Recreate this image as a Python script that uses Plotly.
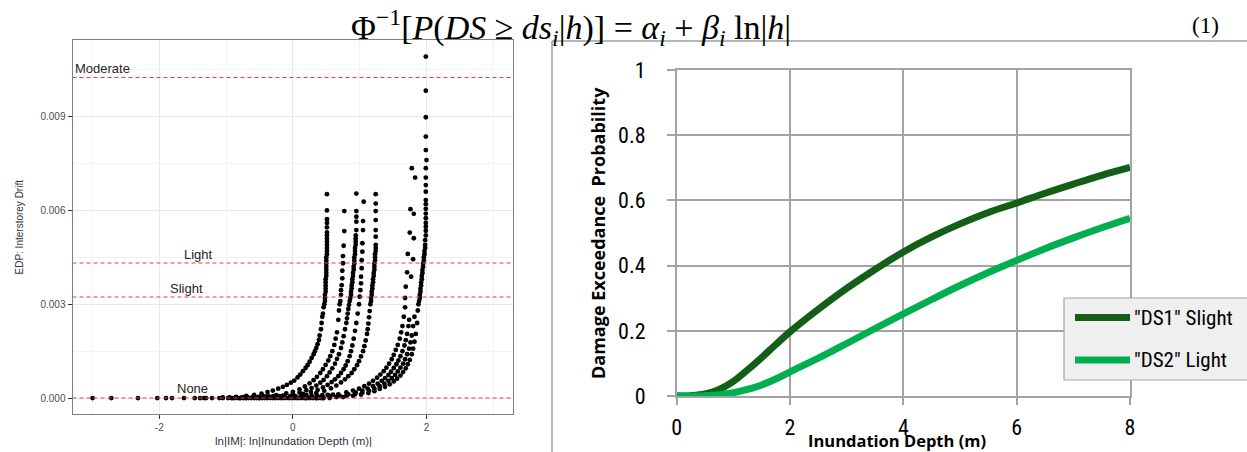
import plotly.graph_objects as go

W, H = 1247, 452


def px(xp):
    return xp / W


def py(yp):
    return 1 - yp / H


# ---------------- left panel: EDP (interstorey drift) vs ln(depth) ----------------
base_x = [-3.00, -2.72, -2.32, -2.03, -1.90, -1.81, -1.63, -1.47, -1.39, -1.33, -1.21, -1.10,
          -1.05, -0.97, -0.92, -0.87, -0.82, -0.78, -0.74, -0.70, -0.66, -0.62, -0.58, -0.54,
          -0.50, -0.46, -0.42, -0.38, -0.34, -0.30, -0.26, -0.22, -0.18, -0.14, -0.10, -0.06,
          -0.02, 0.02, 0.06, 0.10, 0.14, 0.18, 0.22, 0.26, 0.30, 0.34, 0.38, 0.42, 0.46]
base_y = [0, 0, 0, 0, 0, 0, 0, 0, 0, 0, 0, 0,
          0, 0, 0, 0, 0, 0, 0, 0, 0, 0, 0, 0,
          0, 0, 0, 0, 0, 0, 0, 0, 0, 0, 0, 0,
          0, 0, 0, 0, 0, 0, 0, 0, 0, 0, 0, 0, 0]

band_x = [-0.95, -0.85, -0.76, -0.68, -0.60, -0.52, -0.44, -0.36, -0.28, -0.20, -0.12, -0.04,
          0.04, 0.12, 0.20, 0.28, 0.36, 0.44, 0.52, 0.60]
band_y = [0.00002, 0.00002, 0.00003, 0.00003, 0.00004, 0.00004, 0.00005, 0.00005, 0.00005,
          0.00006, 0.00006, 0.00006, 0.00006, 0.00007, 0.00007, 0.00008, 0.00008, 0.00009,
          0.0001, 0.00011]

bldg_a_x = [-1.30, -1.05, -0.85, -0.70, -0.58, -0.47, -0.38, -0.30, -0.22, -0.15, -0.09, -0.03,
            0.02, 0.07, 0.11, 0.15, 0.19, 0.22, 0.25, 0.28, 0.31, 0.33, 0.35, 0.37, 0.39, 0.40,
            0.42, 0.43, 0.44, 0.45, 0.46, 0.47,
            0.48, 0.48, 0.48, 0.49, 0.49, 0.49, 0.49, 0.49, 0.50, 0.50, 0.50, 0.50, 0.50, 0.50,
            0.50, 0.51, 0.51, 0.51, 0.51, 0.51, 0.51, 0.51, 0.51, 0.51, 0.51, 0.51, 0.51, 0.51]
bldg_a_y = [0, 0.00002, 0.00004, 0.00007, 0.0001, 0.00014, 0.00019, 0.00024, 0.0003, 0.00036,
            0.00042, 0.00049, 0.00056, 0.00066, 0.00075, 0.00086, 0.00096, 0.00105, 0.00116,
            0.00128, 0.0014, 0.0015, 0.0016, 0.00172, 0.00186, 0.002, 0.0022, 0.0024, 0.0026,
            0.0027, 0.0029, 0.003,
            0.0031, 0.0032, 0.0033, 0.0034, 0.0035, 0.0036, 0.0037, 0.0038, 0.0039, 0.0040,
            0.0041, 0.0042, 0.0043, 0.0044, 0.0045, 0.0046, 0.0047, 0.0048, 0.0049, 0.0050,
            0.0051, 0.0052, 0.0053, 0.00546, 0.0056, 0.00572, 0.0060, 0.00652]

bldg_b_x = [-0.90, -0.60, -0.40, -0.25, -0.10, 0.00, 0.10, 0.18, 0.25, 0.31, 0.36, 0.41, 0.45,
            0.49, 0.53, 0.56, 0.59, 0.62, 0.64, 0.66, 0.68, 0.69, 0.70,
            0.71, 0.72, 0.72, 0.73, 0.74, 0.74, 0.75, 0.75, 0.76, 0.77, 0.77]
bldg_b_y = [0, 0.00002, 0.00005, 0.00009, 0.00015, 0.0002, 0.00028, 0.00037, 0.00047, 0.00057,
            0.00068, 0.0008, 0.00092, 0.00106, 0.0012, 0.00134, 0.0015, 0.0017, 0.0019, 0.0021,
            0.0025, 0.0028, 0.0030,
            0.0031, 0.0033, 0.00345, 0.00361, 0.00383, 0.00407, 0.00431, 0.00454, 0.00487,
            0.00534, 0.00598]

bldg_c_x = [-0.80, -0.50, -0.30, -0.15, 0.00, 0.10, 0.20, 0.28, 0.35, 0.41, 0.46, 0.51, 0.55,
            0.59, 0.63, 0.66, 0.69, 0.72, 0.74, 0.76, 0.78, 0.80, 0.81, 0.82, 0.83, 0.84, 0.85,
            0.86, 0.87, 0.87, 0.88, 0.88, 0.89, 0.89, 0.90, 0.90, 0.91, 0.91, 0.92, 0.92, 0.92,
            0.93, 0.93, 0.93, 0.94, 0.94, 0.94, 0.94, 0.95, 0.95, 0.95, 0.95, 0.95]
bldg_c_y = [0, 0.00002, 0.00005, 0.00008, 0.00013, 0.00018, 0.00025, 0.00032, 0.0004, 0.00049,
            0.00058, 0.0007, 0.00082, 0.00095, 0.0011, 0.00125, 0.0014, 0.0016, 0.00178, 0.00198,
            0.0022, 0.0024, 0.00255, 0.0027, 0.00285, 0.00298, 0.0031,
            0.0032, 0.0033, 0.0034, 0.0035, 0.0036, 0.0037, 0.0038, 0.0039, 0.0040, 0.0041,
            0.0042, 0.0043, 0.0044, 0.0045, 0.0046, 0.0047, 0.0048, 0.0049, 0.0050, 0.0051,
            0.0052, 0.00537, 0.00564, 0.0058, 0.00598, 0.00654]

bldg_d_x = [-0.70, -0.40, -0.20, 0.00, 0.15, 0.27, 0.37, 0.45, 0.52, 0.58, 0.63, 0.68, 0.72,
            0.76, 0.79, 0.82, 0.85, 0.87, 0.89, 0.91, 0.93, 0.95, 0.97, 0.99,
            1.00, 1.01, 1.02, 1.02, 1.03, 1.03, 1.04, 1.04, 1.05, 1.05, 1.06]
bldg_d_y = [0, 0.00002, 0.00004, 0.00008, 0.00013, 0.00019, 0.00026, 0.00034, 0.00042, 0.00051,
            0.0006, 0.0007, 0.0008, 0.00092, 0.00104, 0.00118, 0.00134, 0.0015, 0.00168, 0.0019,
            0.00215, 0.0024, 0.0027, 0.003,
            0.00324, 0.00345, 0.00367, 0.00388, 0.00415, 0.00441, 0.00468, 0.00495, 0.00537,
            0.00566, 0.00628]

bldg_e_x = [-0.50, -0.20, 0.00, 0.20, 0.35, 0.47, 0.57, 0.65, 0.72, 0.78, 0.83, 0.88, 0.92,
            0.96, 0.99, 1.02, 1.05, 1.07, 1.09, 1.11, 1.12, 1.13, 1.14, 1.15, 1.16,
            1.17, 1.17, 1.18, 1.18, 1.19, 1.19, 1.20, 1.20, 1.21, 1.21, 1.22, 1.22, 1.22, 1.23,
            1.23, 1.23, 1.24, 1.24, 1.24, 1.24, 1.24, 1.24, 1.24, 1.24, 1.24]
bldg_e_y = [0, 0.00002, 0.00005, 0.0001, 0.00016, 0.00023, 0.00031, 0.0004, 0.0005, 0.0006,
            0.0007, 0.0008, 0.00092, 0.00105, 0.00118, 0.00133, 0.0015, 0.00166, 0.00184,
            0.00205, 0.0022, 0.00238, 0.00258, 0.00278, 0.003,
            0.0031, 0.0032, 0.0033, 0.0034, 0.0035, 0.0036, 0.0037, 0.0038, 0.0039, 0.0040,
            0.0041, 0.0042, 0.0043, 0.0044, 0.0045, 0.0046, 0.0047, 0.0048, 0.0049, 0.00516,
            0.00537, 0.00569, 0.00598, 0.00622, 0.00652]

bldg_f_x = [0.20, 0.40, 0.55, 0.68, 0.80, 0.90, 0.99, 1.07, 1.14, 1.20, 1.26, 1.31, 1.36, 1.40,
            1.44, 1.48, 1.51, 1.54, 1.57, 1.60, 1.62, 1.64, 1.66, 1.68,
            1.68, 1.69, 1.71, 1.72, 1.75, 1.76, 1.78]
bldg_f_y = [0, 0.00003, 0.00007, 0.00012, 0.00018, 0.00024, 0.0003, 0.00038, 0.00046, 0.00055,
            0.00065, 0.00075, 0.00086, 0.00097, 0.0011, 0.00124, 0.00138, 0.00154, 0.0017,
            0.0019, 0.0021, 0.0023, 0.0026, 0.0029,
            0.0032, 0.00356, 0.00402, 0.00461, 0.00529, 0.00604, 0.00735]

bldg_g_x = [0.35, 0.55, 0.70, 0.83, 0.94, 1.04, 1.12, 1.20, 1.27, 1.33, 1.38, 1.43, 1.47, 1.51,
            1.55, 1.58, 1.61, 1.64, 1.67, 1.69, 1.71, 1.73, 1.74]
bldg_g_y = [0, 0.00003, 0.00007, 0.00012, 0.00018, 0.00024, 0.0003, 0.00038, 0.00046, 0.00055,
            0.00064, 0.00074, 0.00084, 0.00096, 0.00108, 0.0012, 0.00134, 0.0015, 0.00168,
            0.00185, 0.00205, 0.0023, 0.0025]

bldg_h_x = [0.45, 0.65, 0.80, 0.93, 1.04, 1.14, 1.22, 1.30, 1.37, 1.43, 1.48, 1.53, 1.57, 1.61,
            1.65, 1.68, 1.71, 1.74, 1.76, 1.78, 1.80, 1.82,
            1.77, 1.80, 1.81, 1.81, 1.83]
bldg_h_y = [0, 0.00003, 0.00007, 0.00012, 0.00017, 0.00023, 0.0003, 0.00038, 0.00046, 0.00055,
            0.00064, 0.00074, 0.00085, 0.00097, 0.0011, 0.00124, 0.0014, 0.00158, 0.00178,
            0.002, 0.0023, 0.0026,
            0.00388, 0.00444, 0.00511, 0.00589, 0.00705]

bldg_i_x = [0.55, 0.75, 0.90, 1.02, 1.13, 1.22, 1.30, 1.38, 1.45, 1.51, 1.56, 1.61, 1.65, 1.69,
            1.72, 1.75, 1.78, 1.80, 1.82, 1.84, 1.86, 1.87,
            1.88, 1.89, 1.90, 1.90, 1.91, 1.91, 1.92, 1.92, 1.93, 1.93, 1.94, 1.94, 1.95, 1.95,
            1.96, 1.96, 1.97, 1.97, 1.98, 1.98, 1.98, 1.99, 1.99, 1.99, 1.99, 1.99, 1.99, 1.99,
            1.99, 1.99, 1.99, 1.99, 1.99, 1.99, 2.00, 1.99, 1.99, 1.99, 1.99, 1.99]
bldg_i_y = [0, 0.00003, 0.00007, 0.00011, 0.00016, 0.00022, 0.00029, 0.00036, 0.00044, 0.00053,
            0.00062, 0.00072, 0.00083, 0.00095, 0.00108, 0.00122, 0.0014, 0.00158, 0.0018,
            0.00205, 0.0024, 0.0028,
            0.0030, 0.0031, 0.0032, 0.0033, 0.0034, 0.0035, 0.0036, 0.0037, 0.0038, 0.0039,
            0.0040, 0.0041, 0.0042, 0.0043, 0.0044, 0.0045, 0.0046, 0.0047, 0.0048, 0.0049,
            0.00505, 0.0052, 0.00535, 0.00548, 0.0056, 0.00575, 0.0059, 0.00605, 0.0062,
            0.00633, 0.0066, 0.00681, 0.00705, 0.00735, 0.00761, 0.00793, 0.00836, 0.00898,
            0.00983, 0.01092]

# damage-state drift thresholds
threshold_names = ["None", "Slight", "Light", "Moderate"]
threshold_values = [0.0, 0.00323, 0.00432, 0.01025]

# ---------------- right panel: fragility curves ----------------
depth_m = [0, 0.25, 0.5, 0.75, 1, 1.25, 1.5, 1.75, 2, 2.5, 3, 3.5, 4, 4.5, 5, 5.5, 6, 6.5, 7,
           7.5, 8]
p_ds1_slight = [0, 0.001, 0.006, 0.02, 0.045, 0.08, 0.118, 0.158, 0.197, 0.266, 0.33, 0.388,
                0.442, 0.488, 0.528, 0.563, 0.592, 0.622, 0.65, 0.677, 0.701]
p_ds2_light = [0, 0, 0.001, 0.004, 0.01, 0.02, 0.034, 0.052, 0.074, 0.116, 0.161, 0.207, 0.252,
               0.296, 0.339, 0.379, 0.416, 0.452, 0.485, 0.516, 0.545]

DS1_COLOR = "#135f18"
DS2_COLOR = "#00b050"
GRID_R = "#a3a3a3"
THRESH_RED = "#f23b3b"
NARROW = "Liberation Sans Narrow, Roboto Condensed, Open Sans, sans-serif"
SANS = "Liberation Sans, Arial, sans-serif"
NB = "\u00a0"

fig = go.Figure()

scatter_sets = [
    (base_x, base_y), (band_x, band_y),
    (bldg_a_x, bldg_a_y), (bldg_b_x, bldg_b_y), (bldg_c_x, bldg_c_y),
    (bldg_d_x, bldg_d_y), (bldg_e_x, bldg_e_y), (bldg_f_x, bldg_f_y),
    (bldg_g_x, bldg_g_y), (bldg_h_x, bldg_h_y), (bldg_i_x, bldg_i_y),
]
for xs, ys in scatter_sets:
    fig.add_trace(go.Scatter(
        x=xs, y=ys, mode="markers", xaxis="x", yaxis="y",
        marker=dict(color="black", size=4.8, line=dict(width=0)),
        showlegend=False, hoverinfo="skip", cliponaxis=False,
    ))

fig.add_trace(go.Scatter(
    x=depth_m, y=p_ds1_slight, mode="lines", name='"DS1" Slight',
    line=dict(color=DS1_COLOR, width=7, shape="spline"),
    xaxis="x2", yaxis="y2", cliponaxis=False,
))
fig.add_trace(go.Scatter(
    x=depth_m, y=p_ds2_light, mode="lines", name='"DS2" Light',
    line=dict(color=DS2_COLOR, width=7, shape="spline"),
    xaxis="x2", yaxis="y2", cliponaxis=False,
))

shapes = []
# threshold lines across the left panel
for v in threshold_values:
    shapes.append(dict(type="line", xref="x domain", yref="y", x0=0, x1=1, y0=v, y1=v,
                       line=dict(color=THRESH_RED, width=1.1, dash="4px,3px"), layer="above"))

# frame around the right-hand figure
shapes.append(dict(type="line", xref="paper", yref="paper", x0=px(552), x1=1.0,
                   y0=py(41), y1=py(41), line=dict(color="#9f9f9f", width=1.5)))
shapes.append(dict(type="line", xref="paper", yref="paper", x0=px(552), x1=px(552),
                   y0=0, y1=py(41), line=dict(color="#9f9f9f", width=1.5)))

# legend box for the fragility curves
shapes.append(dict(type="rect", xref="paper", yref="paper", x0=px(1064), x1=px(1252),
                   y0=py(380), y1=py(298), fillcolor="#efefef",
                   line=dict(color="#a6a6a6", width=1.2), layer="above"))
shapes.append(dict(type="line", xref="paper", yref="paper", x0=px(1075), x1=px(1130),
                   y0=py(317.5), y1=py(317.5), line=dict(color=DS1_COLOR, width=7),
                   layer="above"))
shapes.append(dict(type="line", xref="paper", yref="paper", x0=px(1075), x1=px(1130),
                   y0=py(360), y1=py(360), line=dict(color=DS2_COLOR, width=7),
                   layer="above"))

annotations = [
    dict(text="Moderate", x=px(73), y=py(69), xanchor="left"),
    dict(text="Light", x=px(198.5), y=py(254)),
    dict(text="Slight", x=px(186), y=py(288.5)),
    dict(text="None", x=px(192), y=py(388.5)),
]
for a in annotations:
    a.update(font=dict(family=SANS, size=13, color="#262626"))

equation = ("Φ<sup>−1</sup>[<i>P</i>(<i>DS</i>" + NB + "≥" + NB + "<i>ds<sub>i</sub></i>|"
            "<i>h</i>)]" + NB + "=" + NB + "<i>α<sub>i</sub></i>" + NB + "+" + NB +
            "<i>β<sub>i</sub></i> ln|<i>h</i>|")

annotations += [
    dict(text="EDP: Interstorey Drift", x=px(19.5), y=py(227), textangle=-90,
         font=dict(family=SANS, size=10, color="#333344")),
    dict(text="ln|IM|: ln|Inundation Depth (m)|", x=px(293), y=py(441),
         font=dict(family=SANS, size=11.5, color="#333344")),
    dict(text="<b>Damage Exceedance  Probability</b>", x=px(598), y=py(233), textangle=-90,
         font=dict(family="Open Sans, sans-serif", size=18, color="black")),
    dict(text="<b>Inundation Depth (m)</b>", x=px(897), y=py(440),
         font=dict(family="Open Sans, sans-serif", size=16.5, color="black")),
    dict(text='"DS1" Slight', x=px(1132), y=py(317.5), xanchor="left",
         font=dict(family=NARROW, size=21, color="black")),
    dict(text='"DS2" Light', x=px(1132), y=py(360), xanchor="left",
         font=dict(family=NARROW, size=21, color="black")),
    dict(text=equation, x=px(571), y=py(27),
         font=dict(family="Liberation Serif, DejaVu Serif, serif", size=34, color="black")),
    dict(text="(1)", x=px(1205), y=py(25),
         font=dict(family="Liberation Serif, serif", size=23, color="black")),
]
for a in annotations:
    a.setdefault("xref", "paper")
    a.setdefault("yref", "paper")
    a.setdefault("showarrow", False)
    a.setdefault("xanchor", "center")
    a.setdefault("yanchor", "middle")

fig.update_layout(
    width=W, height=H,
    margin=dict(l=0, r=0, t=0, b=0, pad=0, autoexpand=False),
    paper_bgcolor="white", plot_bgcolor="white",
    showlegend=False,
    shapes=shapes, annotations=annotations,
    xaxis=dict(
        domain=[px(72.5), px(513.3)], range=[-3.3, 3.3], anchor="y", automargin=False,
        tickmode="array", tickvals=[-2, 0, 2], ticktext=["-2", "0", "2"],
        ticks="outside", ticklen=4, tickwidth=1, tickcolor="#333333",
        tickfont=dict(family=SANS, size=10, color="#4d4d4d"),
        showgrid=True, gridcolor="#e8e8e8", gridwidth=1,
        minor=dict(tickvals=[-3, -1, 1, 3], showgrid=True, gridcolor="#f4f4f4", ticks=""),
        showline=True, mirror=True, linecolor="#808080", linewidth=1, zeroline=False,
    ),
    yaxis=dict(
        domain=[py(414.3), py(40)], range=[-0.00052, 0.01145], anchor="x", automargin=False,
        tickmode="array", tickvals=[0, 0.003, 0.006, 0.009],
        ticktext=["0.000", "0.003", "0.006", "0.009"],
        ticks="outside", ticklen=4, tickwidth=1, tickcolor="#333333",
        tickfont=dict(family=SANS, size=10, color="#4d4d4d"),
        showgrid=True, gridcolor="#e8e8e8", gridwidth=1,
        minor=dict(tickvals=[0.0015, 0.0045, 0.0075, 0.0105], showgrid=True,
                   gridcolor="#f4f4f4", ticks=""),
        showline=True, mirror=True, linecolor="#808080", linewidth=1, zeroline=False,
    ),
    xaxis2=dict(
        domain=[px(676.7), px(1130)], range=[0, 8], anchor="y2", automargin=False,
        tickmode="array", tickvals=[0, 2, 4, 6, 8],
        ticks="outside", ticklen=7, tickwidth=1.5, tickcolor=GRID_R,
        tickfont=dict(family=NARROW, size=22, color="black"), ticklabelstandoff=4,
        showgrid=True, gridcolor=GRID_R, gridwidth=1.5,
        showline=True, mirror=True, linecolor=GRID_R, linewidth=1.5, zeroline=False,
    ),
    yaxis2=dict(
        domain=[py(396), py(70)], range=[0, 1], anchor="x2", automargin=False,
        tickmode="array", tickvals=[0, 0.2, 0.4, 0.6, 0.8, 1],
        ticktext=["0", "0.2", "0.4", "0.6", "0.8", "1"],
        ticks="outside", ticklen=8, tickwidth=1.5, tickcolor=GRID_R,
        tickfont=dict(family=NARROW, size=22, color="black"), ticklabelstandoff=17,
        showgrid=True, gridcolor=GRID_R, gridwidth=1.5,
        showline=True, mirror=True, linecolor=GRID_R, linewidth=1.5, zeroline=False,
    ),
)

fig.write_html("out.html")
